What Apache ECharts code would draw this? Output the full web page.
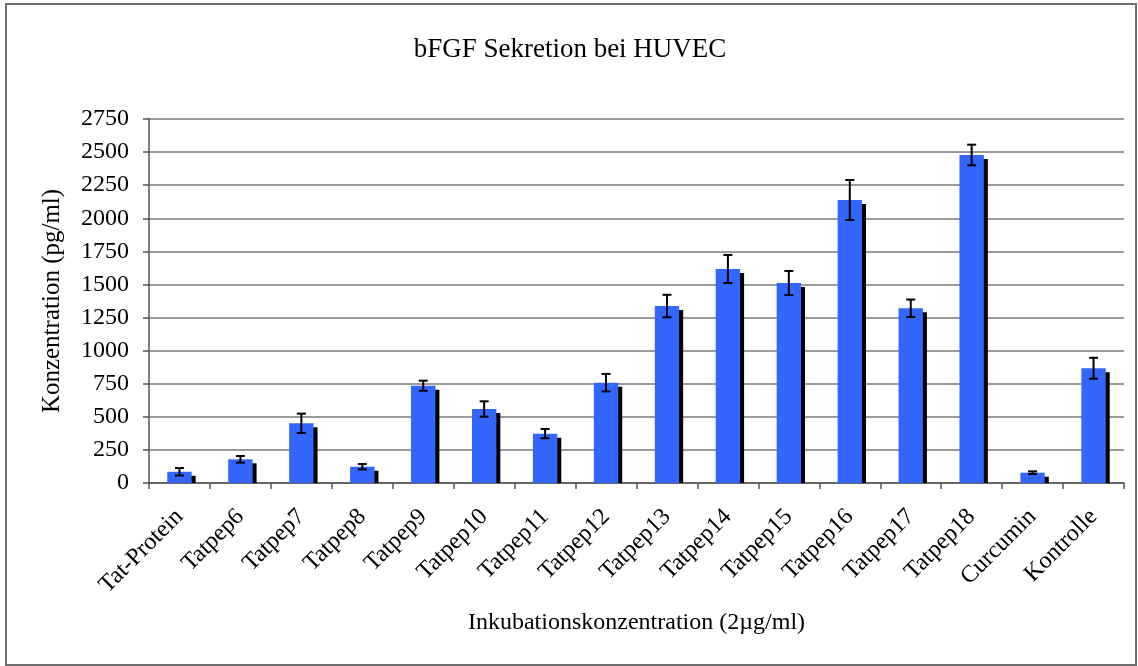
<!DOCTYPE html>
<html>
<head>
<meta charset="utf-8">
<script src="https://cdn.jsdelivr.net/npm/echarts@6/dist/echarts.min.js"></script>
<style>
html,body{margin:0;padding:0;background:#fff;}
#chart{width:1138px;height:666px;}
</style>
</head>
<body>
<div id="chart"></div>
<script>
const categories = ['Tat-Protein','Tatpep6','Tatpep7','Tatpep8','Tatpep9','Tatpep10','Tatpep11','Tatpep12','Tatpep13','Tatpep14','Tatpep15','Tatpep16','Tatpep17','Tatpep18','Curcumin','Kontrolle'];
const values = [85,179,451,123,735,559,373,758,1337,1617,1511,2138,1320,2478,78,867];
const errors = [28,25,73,20,38,58,35,66,85,106,91,151,66,78,10,79];
const yTicks = {min:0,max:2750,interval:250};

const data = categories.map((c,i)=>[i, values[i], errors[i]]);
const FONT = '"Liberation Serif", "Times New Roman", serif';

const chart = echarts.init(document.getElementById('chart'), null, {renderer:'canvas'});
chart.setOption({
  backgroundColor:'#fff',
  animation:false,
  title:{
    text:'bFGF Sekretion bei HUVEC',
    left:565, textAlign:'center', top:31,
    textStyle:{fontFamily:FONT,fontSize:27,fontWeight:'normal',color:'#000'}
  },
  graphic:[{
    type:'rect', shape:{x:6,y:4,width:1130,height:661},
    style:{fill:'none',stroke:'#6e6e6e',lineWidth:2}, silent:true
  }],
  grid:{left:149,right:14,top:119,bottom:183,containLabel:false},
  xAxis:{
    type:'category', data:categories,
    name:'Inkubationskonzentration (2µg/ml)', nameLocation:'middle', nameGap:128,
    nameTextStyle:{fontFamily:FONT,fontSize:24,color:'#000'},
    axisLine:{lineStyle:{color:'#555',width:1.5}},
    axisTick:{show:true,length:6,lineStyle:{color:'#555',width:1.5}},
    axisLabel:{rotate:45,margin:30,fontFamily:FONT,fontSize:24,color:'#000',interval:0},
    splitLine:{show:false}
  },
  yAxis:{
    type:'value', min:yTicks.min, max:yTicks.max, interval:yTicks.interval,
    name:'Konzentration (pg/ml)', nameLocation:'middle', nameGap:84, nameRotate:90,
    nameTextStyle:{fontFamily:FONT,fontSize:25,color:'#000'},
    axisLine:{show:true,lineStyle:{color:'#555',width:1.5}},
    axisTick:{show:true,length:6,lineStyle:{color:'#555',width:1.5}},
    axisLabel:{margin:20,fontFamily:FONT,fontSize:24,color:'#000',formatter:function(v){return String(v);}},
    splitLine:{show:true,lineStyle:{color:'#7a7a7a',width:1.5}}
  },
  series:[{
    type:'custom',
    data:data,
    encode:{x:0,y:1},
    renderItem:function(params, api){
      const xi = api.value(0), v = api.value(1), e = api.value(2);
      const top = api.coord([xi, v]);
      const base = api.coord([xi, 0]);
      const bw = api.size([1,0])[0]*0.4;
      const hi = api.coord([xi, v+e]);
      const lo = api.coord([xi, Math.max(0,v-e)]);
      const cx = top[0];
      const cap = 4.5;
      const h = base[1]-top[1];
      return {type:'group', children:[
        {type:'rect', shape:{x:cx-bw/2+4, y:top[1]+4, width:bw, height:Math.max(0,h-4)}, style:{fill:'#000'}},
        {type:'rect', shape:{x:cx-bw/2, y:top[1], width:bw, height:h}, style:{fill:'#3366ff'}},
        {type:'line', shape:{x1:cx,y1:hi[1],x2:cx,y2:lo[1]}, style:{stroke:'#000',lineWidth:2}},
        {type:'line', shape:{x1:cx-cap,y1:hi[1],x2:cx+cap,y2:hi[1]}, style:{stroke:'#000',lineWidth:2}},
        {type:'line', shape:{x1:cx-cap,y1:lo[1],x2:cx+cap,y2:lo[1]}, style:{stroke:'#000',lineWidth:2}}
      ]};
    }
  }]
});
</script>
</body>
</html>
